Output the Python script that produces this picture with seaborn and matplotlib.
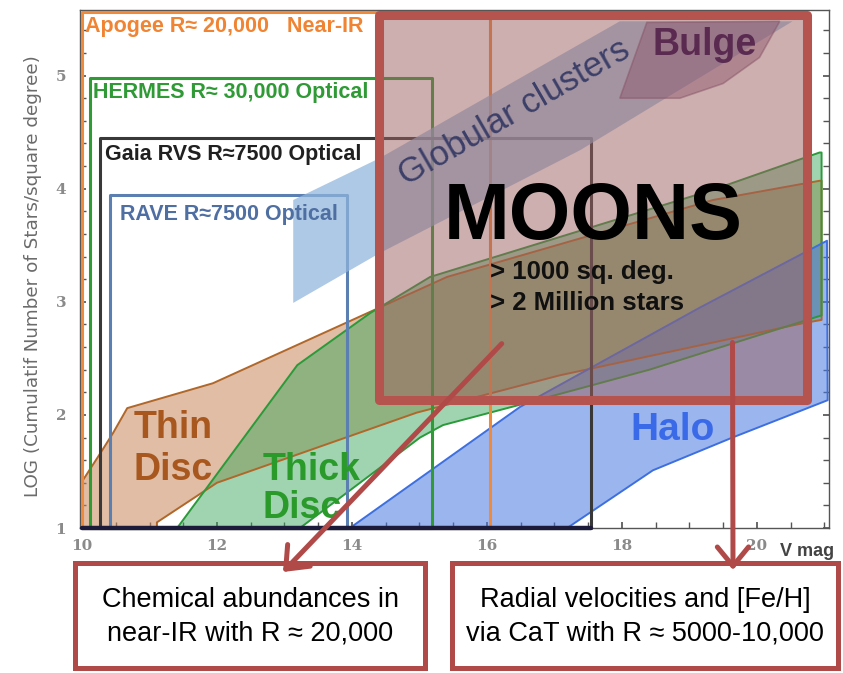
import pandas as pd
import matplotlib.pyplot as plt
import seaborn as sns
from matplotlib.patches import Rectangle, Polygon
from matplotlib.ticker import MultipleLocator

# Survey windows (V mag range and log density ceiling)
survey_labels = ["Apogee R\u2248 20,000   Near-IR", "HERMES R\u2248 30,000 Optical",
                 "Gaia RVS R\u22487500 Optical", "RAVE R\u22487500 Optical"]
survey_xmin = [10.0, 10.12, 10.27, 10.41]
survey_xmax = [16.04, 15.19, 17.55, 13.93]
survey_top = [5.56, 4.98, 4.45, 3.94]
survey_label_x = [10.04, 10.16, 10.34, 10.56]
survey_label_y = [5.43, 4.85, 4.30, 3.77]
survey_colors = ["#ee8a3c", "#2f9a36", "#383838", "#5a7fb0"]
survey_text_colors = ["#f08432", "#2f9a36", "#202020", "#4f6fa3"]

# Galactic components (polygon outlines, V mag vs log N)
thin_x = [10.01, 10.27, 10.46, 10.67, 11.94, 15.41, 19.35, 20.93, 20.96, 20.96,
          20.68, 17.08, 14.96, 12.00, 11.11, 11.11, 10.01]
thin_y = [1.42, 1.66, 1.84, 2.06, 2.28, 3.22, 3.90, 4.07, 4.07, 2.84,
          2.81, 2.35, 2.02, 1.40, 1.05, 1.00, 1.00]

thick_x = [11.41, 13.19, 14.27, 15.16, 19.35, 20.93, 20.96, 20.96,
           18.41, 16.49, 15.35, 15.01, 13.23]
thick_y = [1.00, 2.44, 2.90, 3.22, 3.99, 4.32, 4.32, 2.88,
           2.40, 2.09, 1.91, 1.80, 1.00]

halo_x = [13.97, 16.49, 19.16, 21.04, 21.05, 19.64, 18.46, 17.19]
halo_y = [1.00, 2.07, 2.95, 3.54, 2.13, 1.80, 1.51, 1.00]

gc_x = [13.13, 14.41, 17.38, 17.97, 20.53, 17.38, 14.41, 13.13]
gc_y = [3.90, 4.27, 5.28, 5.48, 5.48, 4.34, 3.43, 2.99]

bulge_x = [17.97, 18.37, 20.34, 20.04, 19.50, 18.86]
bulge_y = [4.80, 5.47, 5.48, 5.16, 4.93, 4.80]

# MOONS window
moons_x = [14.40, 20.75]
moons_y = [2.13, 5.54]

sns.set_theme(style="ticks")
plt.rcParams["font.family"] = ["Liberation Sans", "DejaVu Sans"]

fig = plt.figure(figsize=(8.43, 6.73), dpi=100)
ax = fig.add_axes([80 / 843, 145 / 673, 749 / 843, 518 / 673])


def outline(xs, ys, color, lw, z):
    df = pd.DataFrame({"x": list(xs) + [xs[0]], "y": list(ys) + [ys[0]]})
    sns.lineplot(data=df, x="x", y="y", sort=False, estimator=None, color=color,
                 lw=lw, ax=ax, zorder=z, clip_on=False)


# component fills
ax.add_patch(Polygon(list(zip(thin_x, thin_y)), closed=True, fc="#c8875a", alpha=0.55, lw=0, zorder=1))
ax.add_patch(Polygon(list(zip(thick_x, thick_y)), closed=True, fc="#3aa65a", alpha=0.48, lw=0, zorder=1.1))
ax.add_patch(Polygon(list(zip(halo_x, halo_y)), closed=True, fc="#4a78e0", alpha=0.55, lw=0, zorder=1.2))
outline(thin_x, thin_y, "#b0672a", 1.4, 2)
outline(thick_x, thick_y, "#2a9a3a", 1.4, 2)
outline(halo_x, halo_y, "#3d6fe0", 1.4, 2)

# survey boxes
for lab, x0, x1, top, lx, ly, c, tc in zip(survey_labels, survey_xmin, survey_xmax, survey_top,
                                            survey_label_x, survey_label_y,
                                            survey_colors, survey_text_colors):
    outline([x0, x0, x1, x1], [1.0, top, top, 1.0], c, 2.2, 3)
    ax.text(lx, ly, lab, color=tc, fontsize=15.5, fontweight="bold",
            va="center", ha="left", zorder=5)

# dark base line where the survey boxes overlap on the axis
base = pd.DataFrame({"x": [min(survey_xmin), max(survey_xmax)], "y": [1.0, 1.0]})
sns.lineplot(data=base, x="x", y="y", color="#1c1c3a", lw=3.2, ax=ax, zorder=3.5, clip_on=False)

# globular clusters band and bulge
ax.add_patch(Polygon(list(zip(gc_x, gc_y)), closed=True, fc="#8fb4dc", alpha=0.72, lw=0, zorder=4))
ax.add_patch(Polygon(list(zip(bulge_x, bulge_y)), closed=True, fc="#7a4a78", alpha=0.45,
                     ec="#6a3a60", lw=1.2, zorder=4.5))

# MOONS window
ax.add_patch(Rectangle((moons_x[0], moons_y[0]), moons_x[1] - moons_x[0], moons_y[1] - moons_y[0],
                       fc="#9c6060", alpha=0.5, lw=0, zorder=6, clip_on=False))
ax.add_patch(Rectangle((moons_x[0], moons_y[0]), moons_x[1] - moons_x[0], moons_y[1] - moons_y[0],
                       fill=False, ec="#b5534e", lw=6.5, joinstyle="round", zorder=7, clip_on=False))

ax.text(16.41, 4.67, "Globular clusters", rotation=30, rotation_mode="anchor",
        ha="center", va="center", fontsize=25, color="#3c3f68", zorder=8)
ax.text(19.23, 5.27, "Bulge", ha="center", va="center", fontsize=27,
        color="#5a2a50", fontweight="bold", zorder=8)
ax.text(17.57, 3.74, "MOONS", ha="center", va="center", fontsize=57,
        fontweight="bold", color="black", zorder=8)
ax.text(16.04, 3.26, "> 1000 sq. deg.", ha="left", va="center", fontsize=18.5,
        fontweight="bold", color="#101010", zorder=8)
ax.text(16.04, 2.99, "> 2 Million stars", ha="left", va="center", fontsize=18.5,
        fontweight="bold", color="#101010", zorder=8)

# component labels
ax.text(10.76, 1.88, "Thin", fontsize=27, fontweight="bold", color="#a8581e", va="center", zorder=8)
ax.text(10.76, 1.51, "Disc", fontsize=27, fontweight="bold", color="#a8581e", va="center", zorder=8)
ax.text(12.68, 1.51, "Thick", fontsize=27, fontweight="bold", color="#2a9a2a", va="center", zorder=8)
ax.text(12.68, 1.18, "Disc", fontsize=27, fontweight="bold", color="#2a9a2a", va="center", zorder=8)
ax.text(18.12, 1.87, "Halo", fontsize=28, fontweight="bold", color="#3a6ae8", va="center", zorder=8)

# arrows to the two science cases
arrow_kw = dict(arrowstyle="->,head_length=0.55,head_width=0.45", lw=3.6,
                color="#b04a48", mutation_scale=25, shrinkA=0, shrinkB=0)
ax.annotate("", xy=(283 / 843, 1 - 572 / 673), xycoords="figure fraction",
            xytext=(16.22, 2.63), textcoords="data", arrowprops=arrow_kw,
            annotation_clip=False, zorder=9)
ax.annotate("", xy=(733 / 843, 1 - 570 / 673), xycoords="figure fraction",
            xytext=(19.64, 2.64), textcoords="data", arrowprops=arrow_kw,
            annotation_clip=False, zorder=9)

for bx, bw, txt in [(75 / 843, 350 / 843, "Chemical abundances in\nnear-IR with R \u2248 20,000"),
                    (452 / 843, 386 / 843, "Radial velocities and [Fe/H]\nvia CaT with R \u2248 5000-10,000")]:
    fig.add_artist(Rectangle((bx, 5 / 673), bw, 105 / 673, transform=fig.transFigure,
                             fill=False, ec="#b04a48", lw=3.6))
    fig.text(bx + bw / 2, 1 - 617 / 673, txt, ha="center", va="center", fontsize=19.5,
             color="black", linespacing=1.4)

# axes styling
ax.set_xlim(9.97, 21.07)
ax.set_ylim(1.0, 5.58)
ax.set_xticks([10, 12, 14, 16, 18, 20])
ax.set_yticks([1, 2, 3, 4, 5])
ax.xaxis.set_minor_locator(MultipleLocator(0.5))
ax.yaxis.set_minor_locator(MultipleLocator(0.2))
ax.tick_params(which="both", direction="in", right=True, top=False, length=4,
               color="#555555", labelcolor="#8a8a8a", labelsize=11)
ax.tick_params(axis="x", pad=8)
ax.tick_params(axis="y", pad=10)
for lab in ax.get_xticklabels() + ax.get_yticklabels():
    lab.set_fontweight("bold")
    lab.set_family(["DejaVu Serif"])
for sp in ax.spines.values():
    sp.set_color("#555555")
    sp.set_linewidth(1.0)
ax.set_xlabel("")
ax.set_ylabel("LOG (Cumulatif Number of Stars/square degree)", fontsize=13.2,
              color="#6b6b6b", family=["DejaVu Sans"])
ax.yaxis.set_label_coords(-0.0507, 0.486)
ax.text(20.35, -0.028, "V mag", transform=ax.get_xaxis_transform(), ha="left", va="top",
        fontsize=13, fontweight="bold", color="#444444", clip_on=False)

fig.savefig("out.png", dpi=100)
